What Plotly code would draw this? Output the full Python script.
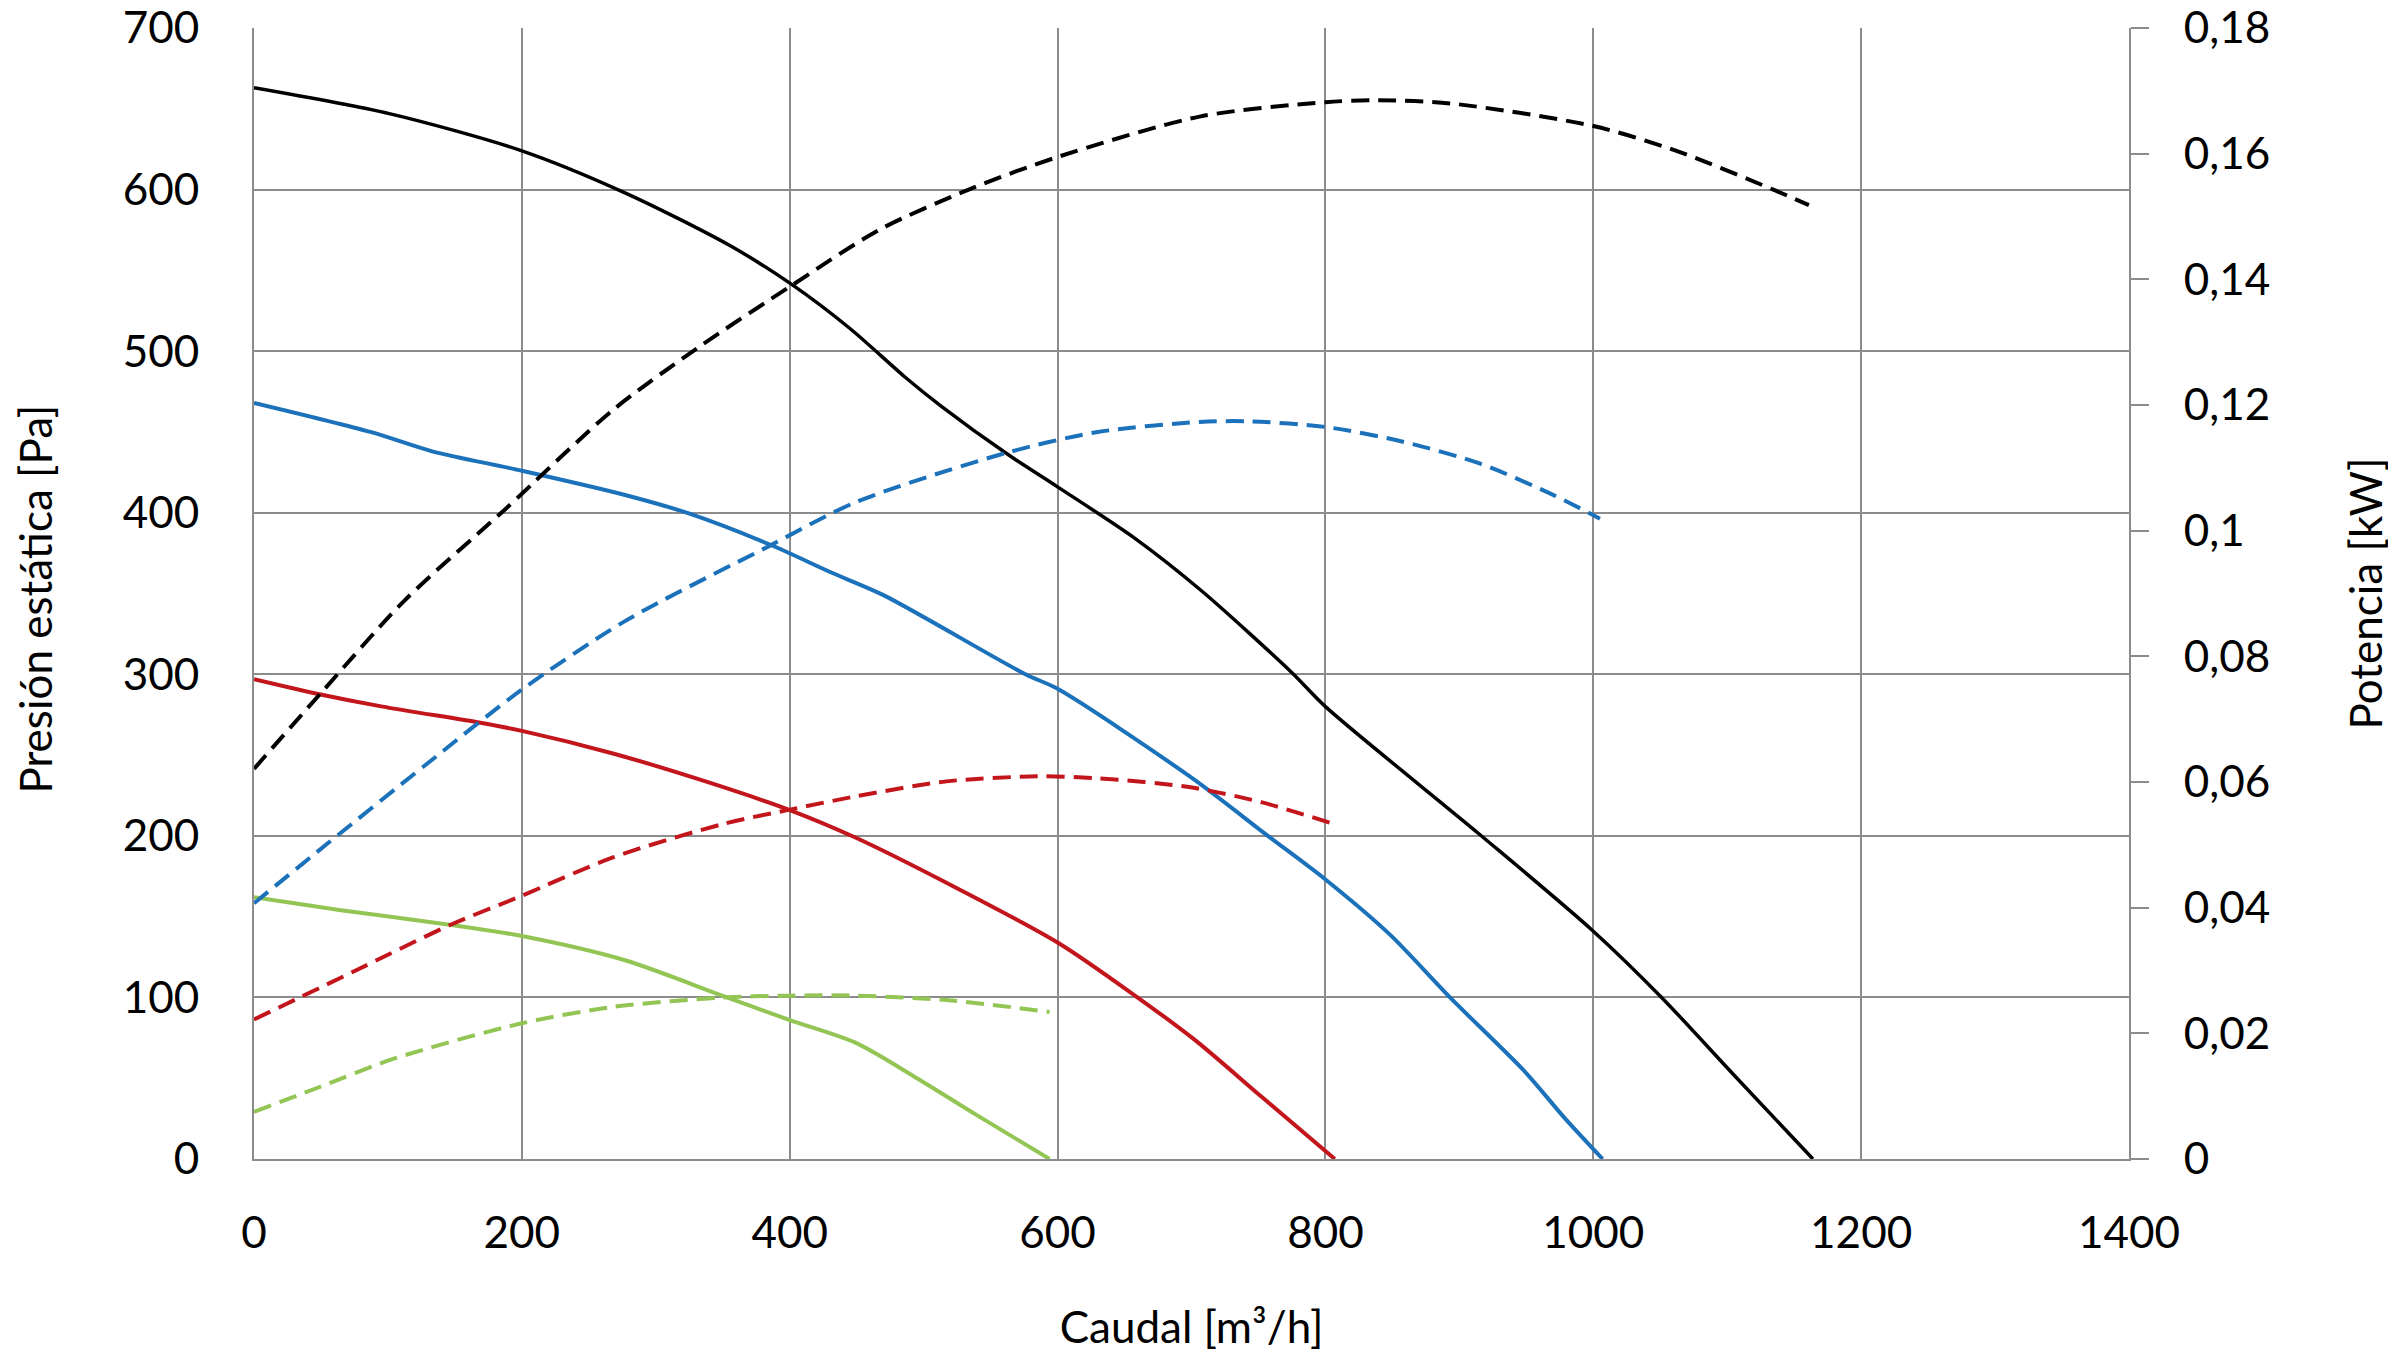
import plotly.graph_objects as go

# ── Datos ─────────────────────────────────────────────────────────────────────
# Presión estática [Pa] frente a caudal [m3/h]
negro_q = [0, 101, 200, 277, 354, 402, 445, 486, 513, 563, 600, 658, 707, 775, 800, 915, 1000, 1051, 1105, 1164]
negro_p = [663, 647, 624, 598, 566, 541, 514, 484, 466, 436, 416, 384, 352, 301, 280, 201, 141, 100, 52, 0]

azul_q = [0, 87, 133, 200, 277, 323, 386, 431, 470, 576, 600, 700, 757, 800, 848, 893, 949, 979, 1007]
azul_p = [468, 450, 438, 426, 411, 400, 380, 363, 349, 300, 291, 236, 200, 173, 139, 100, 54, 25, 0]

rojo_q = [0, 47, 96, 169, 200, 268, 336, 400, 449, 517, 600, 658, 702, 753, 807]
rojo_p = [297, 288, 280, 270, 265, 251, 234, 216, 199, 171, 134, 101, 74, 38, 0]

verde_q = [0, 65, 146, 200, 277, 350, 400, 449, 495, 540, 594]
verde_p = [162, 154, 145, 138, 123, 101, 86, 72, 50, 27, 0]

# Potencia [kW] frente a caudal [m3/h]
negro_pot_q = [0, 51, 112, 187, 268, 332, 402, 467, 535, 599, 706, 800, 839, 893, 1000, 1060, 1133, 1161]
negro_pot = [0.0621, 0.0744, 0.0888, 0.1033, 0.1192, 0.1292, 0.1391, 0.1479, 0.1544, 0.1594,
             0.1659, 0.1682, 0.1685, 0.1680, 0.1644, 0.1606, 0.1544, 0.1518]

azul_pot_q = [0, 56, 128, 200, 277, 386, 449, 562, 630, 706, 743, 800, 857, 915, 970, 1005]
azul_pot = [0.0407, 0.0504, 0.0627, 0.0747, 0.0856, 0.0977, 0.1045, 0.1124, 0.1157, 0.1173,
            0.1174, 0.1165, 0.1142, 0.1107, 0.1057, 0.1019]

rojo_pot_q = [0, 74, 146, 200, 268, 350, 400, 449, 517, 585, 630, 698, 752, 805]
rojo_pot = [0.0222, 0.0298, 0.0372, 0.0419, 0.0480, 0.0533, 0.0556, 0.0577, 0.0601, 0.0609,
            0.0606, 0.0592, 0.0568, 0.0534]

verde_pot_q = [0, 47, 105, 200, 268, 350, 400, 449, 517, 594]
verde_pot = [0.0075, 0.0113, 0.0160, 0.0216, 0.0242, 0.0257, 0.0260, 0.0260, 0.0253, 0.0234]

x_ticks = [0, 200, 400, 600, 800, 1000, 1200, 1400]

COLOR_NEGRO = "#000000"
COLOR_AZUL = "#1B72BA"
COLOR_ROJO = "#C3161C"
COLOR_VERDE = "#92C553"
GRIS = "#8C8C8C"
FUENTE = "Lato, 'Noto Sans', sans-serif"

fig = go.Figure()

series = [
    (verde_q, verde_p, verde_pot_q, verde_pot, COLOR_VERDE, 4),
    (rojo_q, rojo_p, rojo_pot_q, rojo_pot, COLOR_ROJO, 4),
    (azul_q, azul_p, azul_pot_q, azul_pot, COLOR_AZUL, 4),
    (negro_q, negro_p, negro_pot_q, negro_pot, COLOR_NEGRO, 3.5),
]

for q, p, qp, pot, color, ancho in series:
    fig.add_trace(go.Scatter(
        x=q, y=p, mode="lines",
        line=dict(color=color, width=ancho, shape="spline", smoothing=0.8),
        hoverinfo="skip",
    ))
    fig.add_trace(go.Scatter(
        x=qp, y=pot, mode="lines", yaxis="y2",
        line=dict(color=color, width=4, dash="18px,9px", shape="spline", smoothing=0.8),
        hoverinfo="skip",
    ))

fig.update_layout(
    width=2396, height=1357,
    paper_bgcolor="white", plot_bgcolor="white",
    showlegend=False,
    separators=",.",
    font=dict(family=FUENTE, size=44, color="black"),
    margin=dict(l=246, r=275, t=20, b=206),
    xaxis=dict(
        range=[0, 1400], tickvals=x_ticks, automargin=False,
        showgrid=True, gridcolor=GRIS, gridwidth=2,
        showline=True, linecolor=GRIS, linewidth=2,
        ticks="", ticklabelstandoff=34, ticklabeloverflow="allow",
        zeroline=False,
        title=dict(text="Caudal [m³/h]", standoff=56, font=dict(size=44)),
    ),
    yaxis=dict(
        range=[0, 700], dtick=100, automargin=False,
        showgrid=True, gridcolor=GRIS, gridwidth=2,
        showline=True, linecolor=GRIS, linewidth=2,
        ticks="", ticklabelstandoff=44, ticklabeloverflow="allow",
        zeroline=False,
    ),
    yaxis2=dict(
        range=[0, 0.18], dtick=0.02, overlaying="y", side="right", automargin=False,
        showgrid=False, zeroline=False,
        showline=True, linecolor=GRIS, linewidth=2,
        ticks="outside", ticklen=18, tickwidth=2, tickcolor=GRIS,
        ticklabelstandoff=26, ticklabeloverflow="allow",
        title=dict(text="Potencia [kW]", standoff=82, font=dict(size=44)),
    ),
    # título del eje izquierdo como anotación para poder acercarlo al borde
    annotations=[dict(
        text="Presión estática [Pa]", textangle=-90,
        xref="paper", yref="paper", x=0, y=0.5,
        xshift=-220, yshift=-6, xanchor="center", yanchor="middle",
        showarrow=False, font=dict(family=FUENTE, size=44, color="black"),
    )],
)

fig.write_html("out.html")
